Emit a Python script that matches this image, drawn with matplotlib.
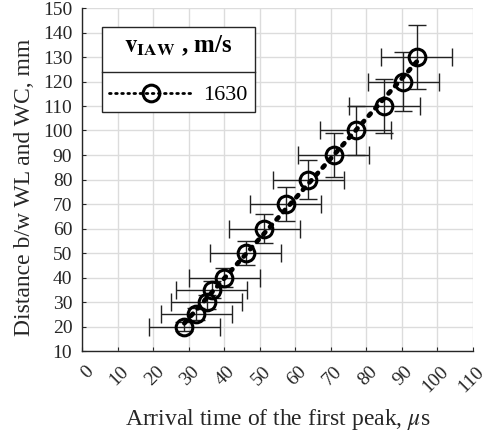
import matplotlib
matplotlib.use("Agg")
import matplotlib.pyplot as plt
from matplotlib.lines import Line2D
from matplotlib.transforms import ScaledTranslation
import numpy as np

plt.rcParams["font.family"] = ["Liberation Serif", "DejaVu Serif"]
plt.rcParams["mathtext.fontset"] = "stix"

# measured points: distance between WL and WC (mm) vs arrival time (us)
distance = [20, 25, 30, 35, 40, 50, 60, 70, 80, 90, 100, 110, 120, 130]
arrival = [28.8, 32.1, 35.1, 36.5, 40.0, 46.1, 51.3, 57.3, 63.7, 70.8, 77.0, 85.0, 90.4, 94.2]
time_err = [10, 10, 10, 10, 10, 10, 10, 10, 10, 10, 10, 10, 10, 10]
dist_err = [2, 2.5, 3, 3.5, 4, 5, 6, 7, 8, 9, 10, 11, 12, 13]
velocity_label = "1630"

x_ticks = list(range(0, 111, 10))
y_ticks = list(range(10, 151, 10))

fig = plt.figure(figsize=(4.86, 4.36), dpi=100)
ax = fig.add_axes([82 / 486, 1 - 351 / 436, (473 - 82) / 486, (351 - 8) / 436])

ax.errorbar(arrival, distance, xerr=time_err, yerr=dist_err, fmt="none",
            ecolor="#222222", elinewidth=1.0, capsize=6.5, capthick=1.0, zorder=3)

# linear fit drawn as dotted line
coef = np.polyfit(arrival, distance, 1)
t_fit = np.array([min(arrival), max(arrival)])
ax.plot(t_fit, np.polyval(coef, t_fit), linestyle=(0, (0.6, 1.5)), color="black",
        linewidth=3.4, dash_capstyle="round", zorder=4)
ax.plot(arrival, distance, linestyle="none", marker="o", markersize=12,
        markerfacecolor="none", markeredgecolor="black", markeredgewidth=2.2, zorder=5)

ax.set_xlim(0, 110)
ax.set_ylim(10, 150)
ax.set_xticks(x_ticks)
ax.set_yticks(y_ticks)
ax.set_xticklabels([str(v) for v in x_ticks], rotation=45, ha="right", va="center",
                   rotation_mode="anchor")
ax.tick_params(direction="in", length=3, labelsize=14, colors="#262626")
ax.tick_params(axis="y", pad=7)
ax.tick_params(axis="x", pad=13)
shift = ScaledTranslation(8.5 / 100, 0, fig.dpi_scale_trans)
for lbl in ax.get_xticklabels():
    lbl.set_transform(lbl.get_transform() + shift)
ax.grid(True, color="#dcdcdc", linewidth=1.0)
ax.set_axisbelow(True)
for side in ["top", "right"]:
    ax.spines[side].set_visible(False)
for side in ["left", "bottom"]:
    ax.spines[side].set_color("#262626")
    ax.spines[side].set_linewidth(1.0)

ax.set_xlabel(r"Arrival time of the first peak, $\mu$s", fontsize=17, color="#262626")
ax.set_ylabel("Distance b/w WL and WC, mm", fontsize=17, color="#262626")
ax.xaxis.set_label_coords(0.5, -0.163)
ax.yaxis.set_label_coords(-0.12, 0.477)

handle = Line2D([], [], linestyle=(0, (0.6, 1.6)), color="black", linewidth=2.0,
                dash_capstyle="round", marker="o", markersize=12,
                markerfacecolor="none", markeredgewidth=2.2)
leg = ax.legend([handle], [velocity_label], title=r"$\mathbf{v}_{\mathbf{IAW}}$ , m/s",
                loc="upper left", bbox_to_anchor=(0.051, 0.945), borderaxespad=0,
                fontsize=16, handlelength=3.8, handletextpad=0.45, fancybox=False,
                framealpha=1, edgecolor="#262626", borderpad=0.32, labelspacing=0.3)
leg.get_title().set_fontsize(18)
leg.get_title().set_fontweight("bold")
leg.get_frame().set_linewidth(1.0)
leg._legend_box.sep = 19

fig.canvas.draw()
fb = leg.get_frame().get_window_extent()
tb = leg.get_title().get_window_extent()
eb = leg.get_texts()[0].get_window_extent()
y_sep = (tb.y0 + eb.y1) / 2
inv = fig.transFigure.inverted()
p0 = inv.transform((fb.x0, y_sep))
p1 = inv.transform((fb.x1, y_sep))
fig.add_artist(Line2D([p0[0], p1[0]], [p0[1], p1[1]], color="#262626", linewidth=1.0, zorder=10))

fig.savefig("out.png", dpi=100)
